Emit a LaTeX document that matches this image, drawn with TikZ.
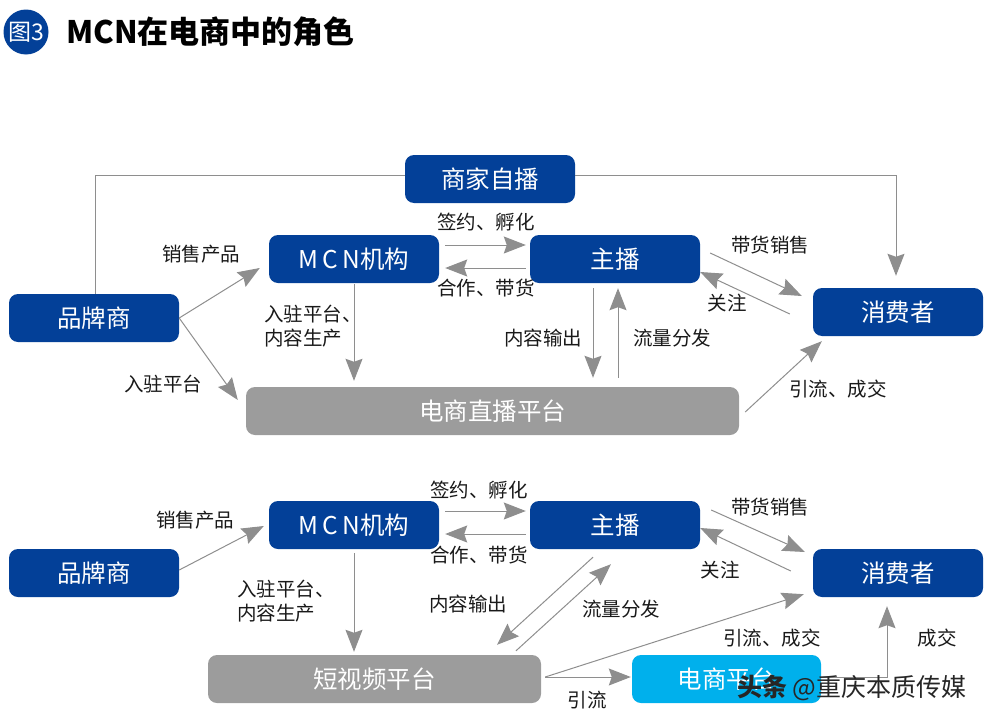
\documentclass[tikz,border=0pt]{standalone}
\usepackage{fontspec}
\setmainfont{Noto Sans CJK SC}
\usepackage{xcolor}
\usetikzlibrary{arrows.meta}
\definecolor{navy}{HTML}{034098}
\definecolor{platgrey}{HTML}{9C9C9C}
\definecolor{cyanplat}{HTML}{00B0EC}
\definecolor{flowgrey}{HTML}{8E8E8E}
\tikzset{
  box/.style={rounded corners=9pt,minimum height=48pt,inner sep=0pt,text=white,
    font=\fontsize{24.5}{29}\selectfont},
  navybox/.style={box,fill=navy,minimum width=170pt},
  greybox/.style={box,fill=platgrey},
  txt/.style={inner sep=0pt,text=black!90,font=\fontsize{19.5}{24.5}\selectfont,align=left},
  flow/.style={draw=flowgrey,line width=1pt,-{Stealth[length=22pt,width=17pt,inset=3pt]}},
  plain/.style={draw=flowgrey,line width=0.9pt},
}
\newcommand{\spaced}[1]{{\addfontfeature{LetterSpace=17}#1}}
\begin{document}
\begin{tikzpicture}[x=1pt,y=-1pt]
    \useasboundingbox (0,0) rectangle (989,723);
    % title
    \node[circle,fill=navy,minimum size=45pt,inner sep=0pt,text=white,font=\fontsize{23}{27}\selectfont] (badge) at (26,32) {图3};
    \node[anchor=west,inner sep=0pt,font=\bfseries\fontsize{31}{37}\selectfont] (title) at (66,32) {MCN在电商中的角色};
    % upper chain
    \node[navybox] (selfA) at (490,179) {商家自播};
    \node[navybox] (brandA) at (94,318) {品牌商};
    \node[navybox] (mcnA) at (354,259) {\spaced{MCN}机构};
    \node[navybox] (hostA) at (615,259) {主播};
    \node[navybox] (buyerA) at (898,312) {消费者};
    \node[greybox,minimum width=493pt] (liveA) at (492.5,411) {电商直播平台};
    % lower chain
    \node[navybox] (brandB) at (94,573) {品牌商};
    \node[navybox] (mcnB) at (354,525) {\spaced{MCN}机构};
    \node[navybox] (hostB) at (615,525) {主播};
    \node[navybox] (buyerB) at (898,573) {消费者};
    \node[greybox,minimum width=333pt] (videoB) at (374.5,679) {短视频平台};
    \node[box,fill=cyanplat,minimum width=189pt] (shopB) at (726.5,679) {电商平台};
    % upper connectors
    \draw[plain] ([xshift=1]brandA.north) |- ([yshift=4]selfA.west);
    \draw[flow] ([yshift=4]selfA.east) -| ([xshift=-2,yshift=12]buyerA.north);
    \draw[flow] (brandA.east) -- ([xshift=-9,yshift=-9]mcnA.west);
    \draw[flow] (brandA.east) -- ([xshift=-8,yshift=11]liveA.west);
    \draw[flow] ([xshift=6,yshift=14]mcnA.east) -- ([xshift=-4,yshift=14]hostA.west);
    \draw[flow] ([xshift=-4,yshift=-9]hostA.west) -- ([xshift=6,yshift=-9]mcnA.east);
    \draw[flow] ([xshift=10,yshift=6]hostA.east) -- ([xshift=-11,yshift=16]buyerA.west);
    \draw[flow] ([xshift=-23,yshift=-2]buyerA.west) -- ([yshift=-13]hostA.east);
    \draw[flow] ([xshift=-22,yshift=-5]hostA.south) -- ([xshift=100.5,yshift=9]liveA.north);
    \draw[flow] ([xshift=125.5,yshift=9]liveA.north) -- ([xshift=3,yshift=-5]hostA.south);
    \draw[flow] ([yshift=-1]mcnA.south) -- ([xshift=-138.5,yshift=6]liveA.north);
    \draw[flow] ([xshift=6,yshift=-1]liveA.east) -- ([xshift=9,yshift=-5]buyerA.south west);
    % lower connectors
    \draw[flow] ([yshift=3]brandB.east) -- ([xshift=-5,yshift=-1]mcnB.west);
    \draw[flow] ([xshift=6,yshift=14]mcnB.east) -- ([xshift=-4,yshift=14]hostB.west);
    \draw[flow] ([xshift=-4,yshift=-9]hostB.west) -- ([xshift=6,yshift=-9]mcnB.east);
    \draw[flow] ([xshift=11,yshift=15]hostB.east) -- ([xshift=-8,yshift=21]buyerB.west);
    \draw[flow] ([xshift=-22,yshift=2]buyerB.west) -- ([yshift=-3]hostB.east);
    \draw[flow] ([yshift=-4]mcnB.south) -- ([xshift=-20.5,yshift=3]videoB.north);
    \draw[flow] ([xshift=-22,yshift=-8]hostB.south) -- ([xshift=122.5,yshift=10]videoB.north);
    \draw[flow] ([xshift=141.5,yshift=4]videoB.north) -- ([xshift=-4,yshift=-15]hostB.south);
    \draw[flow] ([xshift=4,yshift=2]videoB.east) -- ([xshift=-9,yshift=3]buyerB.south west);
    \draw[flow] ([xshift=4,yshift=2]videoB.east) -- ([xshift=-1,yshift=2]shopB.west);
    \draw[flow] ([yshift=2]shopB.east) -| ([xshift=-11,yshift=-9]buyerB.south);
    % upper labels
    \node[txt] (saleA) at (201,254) {销售产品};
    \node[txt] (joinA) at (163,384) {入驻平台};
    \node[txt,anchor=west] (makeA) at (264,326) {入驻平台、\\内容生产};
    \node[txt] (signA) at (486,222) {签约、孵化};
    \node[txt] (coopA) at (486,288) {合作、带货};
    \node[txt] (sellA) at (770,245) {带货销售};
    \node[txt] (followA) at (727,303) {关注};
    \node[txt] (outA) at (543,338) {内容输出};
    \node[txt] (trafficA) at (672,338) {流量分发};
    \node[txt] (dealA) at (838,389) {引流、成交};
    % lower labels
    \node[txt] (saleB) at (195,520) {销售产品};
    \node[txt,anchor=west] (makeB) at (237,601) {入驻平台、\\内容生产};
    \node[txt] (signB) at (479,490) {签约、孵化};
    \node[txt] (coopB) at (479,555) {合作、带货};
    \node[txt] (sellB) at (770,507) {带货销售};
    \node[txt] (followB) at (720,570) {关注};
    \node[txt] (outB) at (468,604) {内容输出};
    \node[txt] (trafficB) at (621,609) {流量分发};
    \node[txt] (dealB) at (772,638) {引流、成交};
    \node[txt] (closeB) at (937,638) {成交};
    \node[txt] (leadB) at (587,700) {引流};
    % watermark
    \node[anchor=west,inner sep=0pt,text=black!85,font=\fontsize{25}{30}\selectfont] (mark) at (737,688) {\textbf{头条} @重庆本质传媒};
  \end{tikzpicture}
\end{document}
